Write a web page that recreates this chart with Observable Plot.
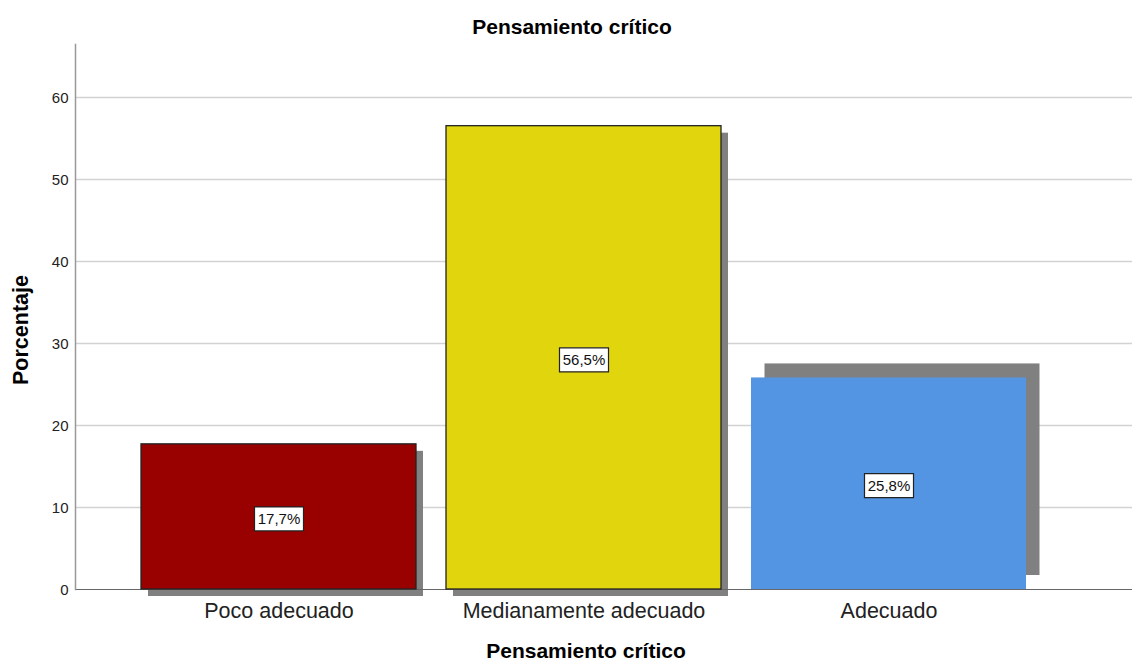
<!DOCTYPE html>
<html>
<head>
<meta charset="utf-8">
<script src="https://cdn.jsdelivr.net/npm/d3@7"></script>
<script src="https://cdn.jsdelivr.net/npm/@observablehq/plot@0.6"></script>
<style>
  html, body { margin: 0; padding: 0; background: #fff; }
  #chart svg { display: block; }
</style>
</head>
<body>
<div id="chart"></div>
<script>
// ---- data ----
const categories = ["Poco adecuado", "Medianamente adecuado", "Adecuado"];
const percentages = [17.7, 56.5, 25.8];
const valueLabels = ["17,7%", "56,5%", "25,8%"];
const yTicks = [0, 10, 20, 30, 40, 50, 60];
const chartTitle = "Pensamiento crítico";
const xTitle = "Pensamiento crítico";
const yTitle = "Porcentaje";

const rows = categories.map((c, i) => ({category: c, value: percentages[i], label: valueLabels[i]}));
const stroked = rows.filter(d => d.category !== "Adecuado");
const unstroked = rows.filter(d => d.category === "Adecuado");

const barColors = ["#990000", "#e1d60e", "#5495e3"];
const boxSymbol = {draw(ctx) { ctx.rect(-24.5, -12, 49, 24); }};

const chart = Plot.plot({
  width: 1132,
  height: 663,
  marginTop: 44,
  marginBottom: 74,
  marginLeft: 75,
  marginRight: 0,
  style: {fontFamily: "'Liberation Sans', Arial, sans-serif", color: "#222", background: "#fff"},
  x: {domain: categories, range: [141, 1026], paddingInner: 30 / 305, paddingOuter: 0, label: null},
  y: {domain: [0, 66.46], label: null},
  color: {domain: categories, range: barColors},
  marks: [
    Plot.gridY(yTicks.filter(t => t > 0), {stroke: "#d2d2d2", strokeOpacity: 1, strokeWidth: 1.5}),
    // shadows
    Plot.barY(stroked, {x: "category", y: "value", fill: "#808080", dx: 7, dy: 7}),
    Plot.barY(unstroked, {x: "category", y: "value", fill: "#808080", dx: 13.5, dy: -14}),
    Plot.ruleY([0], {stroke: "#666", strokeWidth: 1}),
    Plot.frame({anchor: "left", stroke: "#999", strokeWidth: 1.5}),
    // bars
    Plot.barY(stroked, {x: "category", y: "value", fill: "category", stroke: "#222", strokeWidth: 1.3}),
    Plot.barY(unstroked, {x: "category", y: "value", fill: "category"}),
    // value labels
    Plot.dot(rows, {x: "category", y: d => d.value / 2, symbol: boxSymbol, fill: "#fff", stroke: "#222", strokeWidth: 1.2, dy: 2}),
    Plot.text(rows, {x: "category", y: d => d.value / 2, text: "label", fontSize: 15, fill: "#111", dy: 2}),
    // axes
    Plot.axisY({ticks: yTicks, tickSize: 0, tickPadding: 7, fontSize: 15, dy: 1, label: null}),
    Plot.axisX({tickSize: 0, tickPadding: 13, fontSize: 21.5, fill: "#222", label: null}),
    // titles
    Plot.text([chartTitle], {frameAnchor: "top", lineAnchor: "middle", textAnchor: "middle", dx: -32, dy: -17, fontSize: 21, fontWeight: "bold", fill: "#000"}),
    Plot.text([xTitle], {frameAnchor: "bottom", lineAnchor: "middle", textAnchor: "middle", dx: -18, dy: 62, fontSize: 21, fontWeight: "bold", fill: "#000"}),
    Plot.text([yTitle], {frameAnchor: "left", lineAnchor: "middle", textAnchor: "middle", dx: -54, dy: 13, rotate: -90, fontSize: 21.5, fontWeight: "bold", fill: "#000"})
  ]
});
document.getElementById("chart").appendChild(chart);
</script>
</body>
</html>
